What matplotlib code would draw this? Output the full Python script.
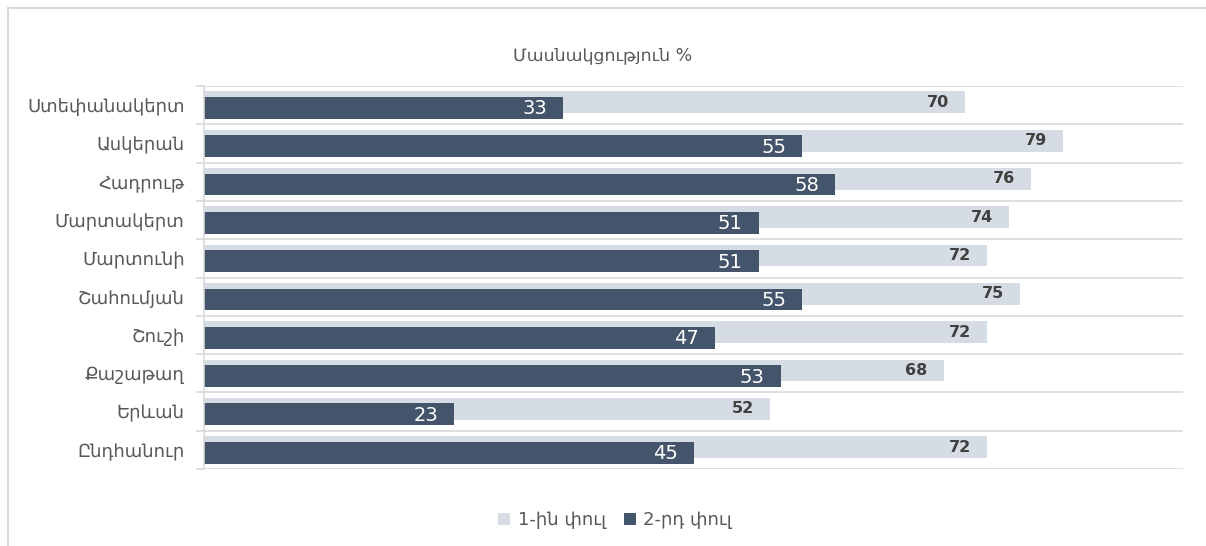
import matplotlib.pyplot as plt
from matplotlib.patches import Patch
from matplotlib.lines import Line2D
import numpy as np

# Տվյալներ
categories = ['Ստեփանակերտ', 'Ասկերան', 'Հադրութ', 'Մարտակերտ', 'Մարտունի',
              'Շահումյան', 'Շուշի', 'Քաշաթաղ', 'Երևան', 'Ընդհանուր']
round1 = [70, 79, 76, 74, 72, 75, 72, 68, 52, 72]
round2 = [33, 55, 58, 51, 51, 55, 47, 53, 23, 45]
series_names = ['1-ին փուլ', '2-րդ փուլ']

LIGHT = '#D6DCE4'
DARK = '#44546A'
GRID = '#D9D9D9'
TEXT = '#595959'

plt.rcParams['font.family'] = ['DejaVu Sans']

fig = plt.figure(figsize=(12.06, 5.46), dpi=100)
ax = fig.add_axes([204 / 1206, 77 / 546, 979 / 1206, 383 / 546])

# Շրջանակ (վերև և ձախ)
bx, by = 8 / 1206, 1 - 8 / 546
fig.add_artist(Line2D([bx, 1.0], [by, by], color=GRID, linewidth=1.5,
                      transform=fig.transFigure))
fig.add_artist(Line2D([bx, bx], [0.0, by], color=GRID, linewidth=1.5,
                      transform=fig.transFigure))

y = np.arange(len(categories))
h = 0.57
off = 0.073
ax.barh(y - off, round1, height=h, color=LIGHT, zorder=2)
ax.barh(y + off, round2, height=h, color=DARK, zorder=3)

for i, v in enumerate(round1):
    ax.annotate(f'{v}', xy=(v, i - off), xytext=(-16, 0), textcoords='offset pixels',
                ha='right', va='center', fontsize=11.5, fontweight='bold',
                color='#404040', zorder=4)
for i, v in enumerate(round2):
    ax.annotate(f'{v}', xy=(v, i + off), xytext=(-16, -1), textcoords='offset pixels',
                ha='right', va='center', fontsize=14, color='white', zorder=4)

ax.set_xlim(0, 90)
ax.set_ylim(len(categories) - 0.5, -0.5)

# Բաժանարար գծեր
ax.set_yticks(np.arange(-0.5, len(categories), 1))
ax.set_yticklabels([])
ax.tick_params(axis='y', which='major', length=6, color=GRID, width=1.2)
ax.set_yticks(y, minor=True)
ax.set_yticklabels(categories, minor=True)
ax.tick_params(axis='y', which='minor', length=0, pad=14, labelsize=13, labelcolor=TEXT)
ax.grid(axis='y', which='major', color=GRID, linewidth=1.2, zorder=0)
ax.set_xticks([])

for s in ['top', 'right', 'bottom']:
    ax.spines[s].set_visible(False)
ax.spines['left'].set_color(GRID)
ax.spines['left'].set_linewidth(1.2)
ax.spines['left'].set_zorder(5)

fig.text(0.5, 1 - 55 / 546, 'Մասնակցություն %', ha='center', va='center',
         fontsize=12.5, color=TEXT)

handles = [Patch(facecolor=LIGHT, label=series_names[0]),
           Patch(facecolor=DARK, label=series_names[1])]
fig.legend(handles=handles, loc='center', bbox_to_anchor=(615 / 1206, 26 / 546),
           ncol=2, frameon=False, fontsize=13, labelcolor=TEXT,
           handlelength=0.67, handleheight=0.67, handletextpad=0.4,
           columnspacing=1.0)

fig.savefig('out.png', dpi=100, facecolor='white')
